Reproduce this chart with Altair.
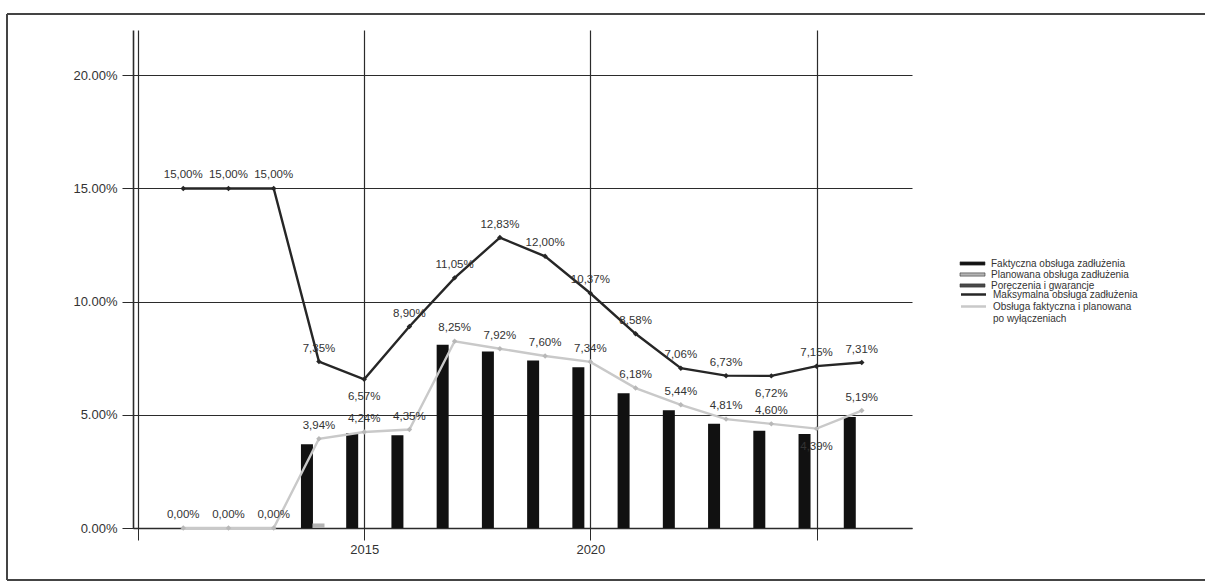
import altair as alt
import pandas as pd

# ---- data ----
years = list(range(2011, 2027))
max_name = "Maksymalna obsługa zadłużenia"
light_name = "Obsługa faktyczna i planowana po wyłączeniach"
max_vals = [15.00, 15.00, 15.00, 7.35, 6.57, 8.90, 11.05, 12.83, 12.00, 10.37, 8.58, 7.06, 6.73, 6.72, 7.15, 7.31]
light_vals = [0.00, 0.00, 0.00, 3.94, 4.24, 4.35, 8.25, 7.92, 7.60, 7.34, 6.18, 5.44, 4.81, 4.60, 4.39, 5.19]

bar_names = ["Faktyczna obsługa zadłużenia", "Planowana obsługa zadłużenia", "Poręczenia i gwarancje"]
fakt_vals = [0, 0, 0, 3.70, 4.20, 4.10, 8.10, 7.80, 7.40, 7.10, 5.95, 5.20, 4.60, 4.30, 4.15, 4.90]
plan_vals = [0, 0, 0, 0.20, 0, 0, 0, 0, 0, 0, 0, 0, 0, 0, 0, 0]
por_vals = [0] * 16

# label placement (style): years whose labels sit below the point
max_below = [2015, 2024]
light_below = [2025]

FONT = "Liberation Sans"

rows = []
for y, m, l in zip(years, max_vals, light_vals):
    rows.append({"year": y, "value": m, "series": max_name, "pos": "below" if y in max_below else "above"})
    rows.append({"year": y, "value": l, "series": light_name, "pos": "below" if y in light_below else "above"})
lines_df = pd.DataFrame(rows)

brows = []
for name, vals in zip(bar_names, [fakt_vals, plan_vals, por_vals]):
    for y, v in zip(years, vals):
        if v > 0:
            brows.append({"year": y, "value": v, "series": name})
bars_df = pd.DataFrame(brows)

x_scale = alt.Scale(domain=[2010, 2027], nice=False, zero=False)
y_scale = alt.Scale(domain=[0, 22], nice=False)
x_axis = alt.Axis(values=[2010, 2015, 2020, 2025], format="d",
                  labelExpr="(datum.value == 2015 || datum.value == 2020) ? datum.label : ''",
                  title=None, grid=True, gridColor="#2b2b2b", gridWidth=1.2,
                  tickSize=12, tickColor="#2b2b2b", domainColor="#2b2b2b", domainWidth=1.6,
                  labelFontSize=13, labelColor="#333", labelFont=FONT, labelPadding=3)
y_axis = alt.Axis(values=[0, 5, 10, 15, 20], labelExpr="format(datum.value, '.2f') + '%'",
                  title=None, grid=True, gridColor="#2b2b2b", gridWidth=1.2,
                  tickSize=11, tickColor="#2b2b2b", domainColor="#2b2b2b", domainWidth=1.6,
                  labelFontSize=13, labelColor="#333", labelFont=FONT, labelPadding=5)

bar_legend = alt.Legend(orient="none", legendX=834, legendY=228, title=None,
                        symbolType="M-2.5,-0.32H2.5V0.32H-2.5Z", symbolSize=100,
                        symbolStrokeColor="#333", symbolStrokeWidth=0.6,
                        labelFontSize=10, labelFont=FONT, labelColor="#333",
                        rowPadding=0, labelOffset=13)
line_legend = alt.Legend(orient="none", legendX=834, legendY=258, title=None,
                         symbolType="M-2.5,0H2.5", symbolSize=100, symbolStrokeWidth=2.5,
                         labelFontSize=10, labelFont=FONT, labelColor="#333",
                         rowPadding=0, labelOffset=13,
                         labelExpr="datum.label == '" + light_name + "' ? ['Obsługa faktyczna i planowana', 'po wyłączeniach'] : datum.label")

bars = alt.Chart(bars_df).transform_calculate(
    xc="datum.year + (datum.series == '" + bar_names[0] + "' ? -0.265 : (datum.series == '" + bar_names[1] + "' ? -0.01 : 0.245))"
).mark_bar(width=12).encode(
    x=alt.X("xc:Q", scale=x_scale, axis=x_axis),
    y=alt.Y("value:Q", scale=y_scale, axis=y_axis),
    color=alt.Color("series:N", scale=alt.Scale(domain=bar_names, range=["#111111", "#b4b4b4", "#4a4a4a"]),
                    legend=bar_legend),
)

line_scale = alt.Scale(domain=[max_name, light_name], range=["#262626", "#c9c9c9"])

lines = alt.Chart(lines_df).mark_line(strokeWidth=2.4).encode(
    x=alt.X("year:Q", scale=x_scale, axis=x_axis),
    y=alt.Y("value:Q", scale=y_scale, axis=y_axis),
    stroke=alt.Stroke("series:N", scale=line_scale, legend=line_legend),
    detail="series:N",
)

points = alt.Chart(lines_df).mark_point(filled=True, shape="diamond", size=30, opacity=1).encode(
    x=alt.X("year:Q", scale=x_scale, axis=x_axis),
    y=alt.Y("value:Q", scale=y_scale, axis=y_axis),
    fill=alt.Fill("series:N", scale=alt.Scale(domain=[max_name, light_name], range=["#262626", "#b8b8b8"]), legend=None),
)

label_text = "replace(format(datum.value, '.2f'), '.', ',') + '%'"
labels_above = alt.Chart(lines_df).transform_filter("datum.pos == 'above'").transform_calculate(
    lbl=label_text
).mark_text(dy=-13, fontSize=11.5, font=FONT, color="#333").encode(
    x=alt.X("year:Q", scale=x_scale, axis=x_axis),
    y=alt.Y("value:Q", scale=y_scale, axis=y_axis),
    text="lbl:N",
)
labels_below = alt.Chart(lines_df).transform_filter("datum.pos == 'below'").transform_calculate(
    lbl=label_text
).mark_text(dy=18, fontSize=11.5, font=FONT, color="#333").encode(
    x=alt.X("year:Q", scale=x_scale, axis=x_axis),
    y=alt.Y("value:Q", scale=y_scale, axis=y_axis),
    text="lbl:N",
)

# outer frame of the scanned figure (decoration)
frame_top = alt.Chart(bars_df).mark_rule(color="#444", strokeWidth=1.5).encode(
    x=alt.value(-126), x2=alt.value(1072), y=alt.value(-16), y2=alt.value(-16))
frame_left = alt.Chart(bars_df).mark_rule(color="#444", strokeWidth=1.5).encode(
    x=alt.value(-126), x2=alt.value(-126), y=alt.value(-16), y2=alt.value(550))
frame_bottom = alt.Chart(bars_df).mark_rule(color="#444", strokeWidth=1.5).encode(
    x=alt.value(-126), x2=alt.value(1072), y=alt.value(550), y2=alt.value(550))

chart = alt.layer(bars, lines, points, labels_above, labels_below,
                  frame_top, frame_left, frame_bottom).properties(
    width=779, height=498,
    padding={"left": 133, "top": 30, "right": 294, "bottom": 57},
    autosize=alt.AutoSizeParams(type="none"),
    background="white",
).configure_view(stroke=None)

chart.save("out.html", embed_options={"renderer": "svg", "actions": False})
